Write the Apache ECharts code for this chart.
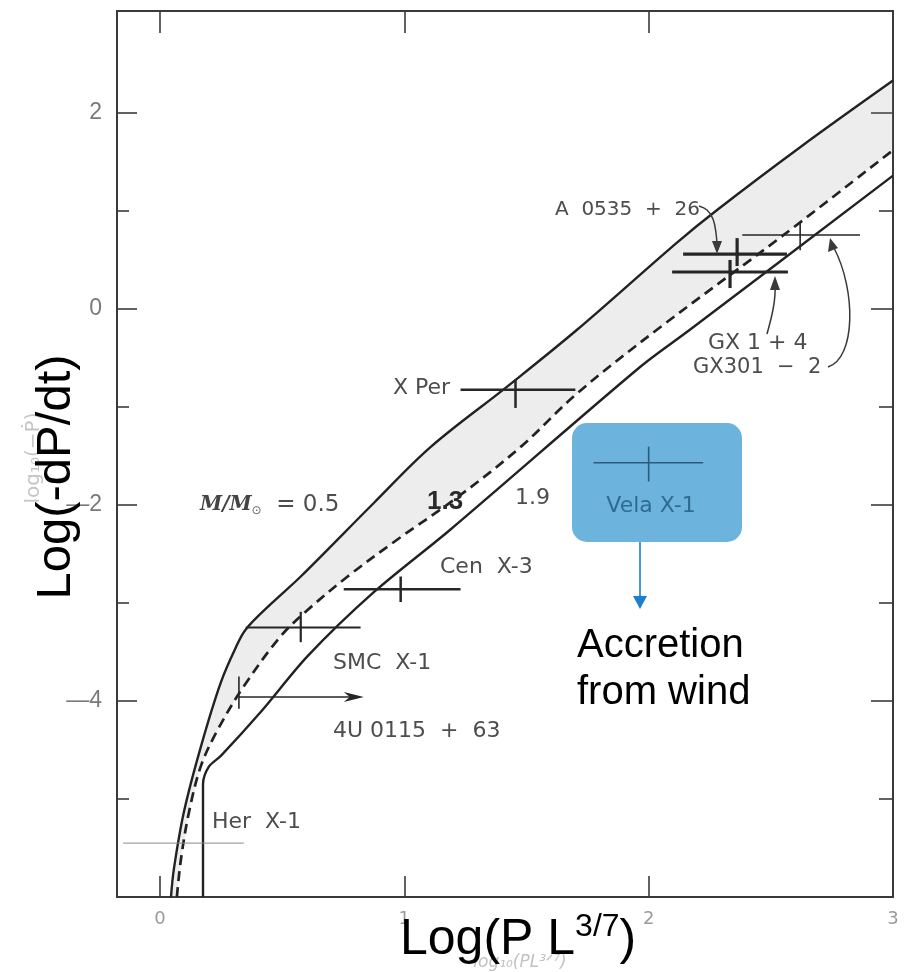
<!DOCTYPE html>
<html>
<head>
<meta charset="utf-8">
<script src="https://cdn.jsdelivr.net/npm/echarts@6/dist/echarts.min.js"></script>
<style>
  html, body { margin: 0; padding: 0; background: #fff; }
  #chart { width: 904px; height: 972px; }
</style>
</head>
<body>
<div id="chart"></div>
<script>
// Spin-up rate of accreting X-ray pulsars against log(P L^3/7),
// with the theoretical spin-up curves for three neutron-star masses.

// Theoretical curves [log(P L^3/7), log(-dP/dt)]
const curveM05 = [[0.045, -6], [0.057, -5.71], [0.098, -5.13], [0.168, -4.46], [0.249, -3.81],
  [0.311, -3.45], [0.351, -3.27], [0.454, -3.01], [0.576, -2.73], [0.875, -1.98], [1.107, -1.41],
  [1.422, -0.79], [1.708, -0.21], [2.117, 0.68], [2.28, 1.01], [2.62, 1.65], [3.0, 2.33]];
const curveM13 = [[0.069, -6], [0.086, -5.61], [0.119, -5.13], [0.168, -4.66], [0.237, -4.29],
  [0.343, -3.85], [0.494, -3.34], [0.605, -3.07], [0.768, -2.73], [0.973, -2.35], [1.218, -1.92],
  [1.475, -1.41], [1.708, -0.86], [2.035, -0.21], [2.55, 0.75], [3.0, 1.62]];
const curveM19 = [[0.176, -6], [0.176, -4.85], [0.2, -4.67], [0.249, -4.56], [0.413, -4.11],
  [0.605, -3.54], [0.875, -2.89], [1.189, -2.25], [1.966, -0.59], [2.17, -0.21], [3.0, 1.36]];

// Measured sources: centre and error-bar extents
const sourceNames = ['X Per', 'Cen X-3', 'SMC X-1', 'A 0535+26', 'GX 1+4', 'GX 301-2', 'Vela X-1', 'Her X-1'];
const srcX   = [1.455, 0.985, 0.576, 2.362, 2.333, 2.62, 2.0, 0.096];
const srcY   = [-0.825, -2.86, -3.25, 0.56, 0.377, 0.754, -1.57, -5.45];
const srcXLo = [1.23, 0.752, 0.351, 2.141, 2.096, 2.383, 1.774, -0.151];
const srcXHi = [1.70, 1.23, 0.821, 2.566, 2.57, 2.865, 2.223, 0.343];
const srcYLo = [-1.01, -2.99, -3.40, 0.438, 0.214, 0.60, -1.76, -5.45];
const srcYHi = [-0.72, -2.73, -3.09, 0.723, 0.50, 0.886, -1.405, -5.45];

// 4U 0115+63: lower limit on log(P L^3/7)
const limitX = 0.323, limitY = -3.96, limitYLo = -4.08, limitYHi = -3.75, limitXTo = 0.834;

// Axis ticks and labels
const xTicks = [0, 1, 2];
const xLabels = [0, 1, 2, 3];
const yMajorTicks = [-4, -2, 0, 2];
const yMinorTicks = [-5, -3, -1, 1];
const yLabels = [-4, -2, 0, 2];

const barStyle = {
  'X Per':     { w: 2.5, c: '#262626' },
  'Cen X-3':   { w: 2.5, c: '#262626' },
  'SMC X-1':   { w: 2.2, c: '#262626' },
  'A 0535+26': { w: 3.2, c: '#262626' },
  'GX 1+4':    { w: 3.2, c: '#262626' },
  'GX 301-2':  { w: 1.6, c: '#262626' },
  'Vela X-1':  { w: 1.6, c: '#2c5a7a' },
  'Her X-1':   { w: 1.0, c: '#8a8a8a' }
};

const LABEL_FONT = '"DejaVu Sans", sans-serif';
const TITLE_FONT = '"Liberation Sans", Arial, sans-serif';
const scanGray = '#4d4d4d';

const chart = echarts.init(document.getElementById('chart'), null, { renderer: 'canvas' });

const tickLine = { color: '#3a3a3a', width: 1.6 };
const xBase = { type: 'value', min: -0.176, max: 3, splitLine: { show: false }, axisLine: { show: false, onZero: false } };
const yBase = { type: 'value', min: -6, max: 3.04, splitLine: { show: false }, axisLine: { show: false, onZero: false } };

function text(x, y, str, size, extra) {
  return Object.assign({
    type: 'text', x: x, y: y, z: 20,
    style: Object.assign({
      text: str, fontSize: size, fontFamily: LABEL_FONT, fill: scanGray,
      align: 'left', verticalAlign: 'middle'
    }, (extra && extra.style) || {})
  }, extra && extra.el || {});
}

const option = {
  animation: false,
  backgroundColor: '#fff',
  grid: { left: 117, right: 11, top: 11, bottom: 75, show: true, borderColor: '#3a3a3a', borderWidth: 2, backgroundColor: 'transparent' },
  xAxis: [
    Object.assign({}, xBase, {
      position: 'bottom',
      axisTick: { show: true, inside: true, length: 21, customValues: xTicks, lineStyle: tickLine },
      axisLabel: { show: true, customValues: xLabels, margin: 13, fontSize: 18, color: '#9a9a9a', fontFamily: LABEL_FONT }
    }),
    Object.assign({}, xBase, {
      position: 'top',
      axisTick: { show: true, inside: true, length: 22, customValues: xTicks, lineStyle: tickLine },
      axisLabel: { show: false }
    })
  ],
  yAxis: [
    Object.assign({}, yBase, {
      position: 'left',
      axisTick: { show: true, inside: true, length: 20, customValues: yMajorTicks, lineStyle: tickLine },
      axisLabel: {
        show: true, customValues: yLabels, margin: 15, fontSize: 23, color: '#7a7a7a', fontFamily: TITLE_FONT,
        padding: [8, 0, 0, 0],
        formatter: v => (v < 0 ? '\u2014' + Math.abs(v) : String(v))
      }
    }),
    Object.assign({}, yBase, {
      position: 'left',
      axisTick: { show: true, inside: true, length: 12, customValues: yMinorTicks, lineStyle: tickLine },
      axisLabel: { show: false }
    }),
    Object.assign({}, yBase, {
      position: 'right',
      axisTick: { show: true, inside: true, length: 22, customValues: yMajorTicks, lineStyle: tickLine },
      axisLabel: { show: false }
    }),
    Object.assign({}, yBase, {
      position: 'right',
      axisTick: { show: true, inside: true, length: 14, customValues: yMinorTicks, lineStyle: tickLine },
      axisLabel: { show: false }
    })
  ],
  series: [
    // stippled band between the 0.5 and 1.3 curves
    {
      type: 'custom', z: 1, silent: true,
      data: [[0, 0]],
      renderItem: function (params, api) {
        const pts = curveM05.map(p => api.coord(p))
          .concat(curveM13.slice().reverse().map(p => api.coord(p)));
        return { type: 'polygon', shape: { points: pts }, style: { fill: 'rgba(150,150,150,0.17)' } };
      }
    },
    {
      name: 'M/M = 0.5', type: 'line', data: curveM05, showSymbol: false, smooth: 0.35, z: 3,
      lineStyle: { color: '#222', width: 2.4 }
    },
    {
      name: 'M/M = 1.3', type: 'line', data: curveM13, showSymbol: false, smooth: 0.35, z: 3,
      lineStyle: { color: '#222', width: 2.7, type: [10, 6] }
    },
    {
      name: 'M/M = 1.9', type: 'line', data: curveM19, showSymbol: false, smooth: 0.3, z: 3,
      lineStyle: { color: '#222', width: 2.4 }
    },
    // error-bar crosses
    {
      type: 'custom', z: 4, silent: true,
      data: sourceNames.map((n, i) => [srcX[i], srcY[i], srcXLo[i], srcXHi[i], srcYLo[i], srcYHi[i]]),
      renderItem: function (params, api) {
        const st = barStyle[sourceNames[params.dataIndex]];
        const l = api.coord([api.value(2), api.value(1)]);
        const r = api.coord([api.value(3), api.value(1)]);
        const t = api.coord([api.value(0), api.value(5)]);
        const b = api.coord([api.value(0), api.value(4)]);
        const s = { stroke: st.c, lineWidth: st.w };
        return {
          type: 'group', children: [
            { type: 'line', shape: { x1: l[0], y1: l[1], x2: r[0], y2: r[1] }, style: s },
            { type: 'line', shape: { x1: t[0], y1: t[1], x2: b[0], y2: b[1] }, style: s }
          ]
        };
      }
    },
    // lower limit with arrow
    {
      type: 'custom', z: 4, silent: true,
      data: [[limitX, limitY, limitYLo, limitYHi, limitXTo]],
      renderItem: function (params, api) {
        const c = api.coord([api.value(0), api.value(1)]);
        const e = api.coord([api.value(4), api.value(1)]);
        const t = api.coord([api.value(0), api.value(3)]);
        const b = api.coord([api.value(0), api.value(2)]);
        const s = { stroke: '#262626', lineWidth: 1.6 };
        return {
          type: 'group', children: [
            { type: 'line', shape: { x1: c[0], y1: c[1], x2: e[0] - 8, y2: e[1] }, style: s },
            { type: 'line', shape: { x1: t[0], y1: t[1], x2: b[0], y2: b[1] }, style: s },
            { type: 'polygon', shape: { points: [[e[0], e[1]], [e[0] - 20, e[1] - 5], [e[0] - 14, e[1]], [e[0] - 20, e[1] + 5]] },
              style: { fill: '#262626' } }
          ]
        };
      }
    }
  ],
  graphic: [
    // faint printed axis captions underneath the large titles
    { type: 'text', x: 34, y: 458, rotation: Math.PI / 2, z: 5,
      style: { text: 'log\u2081\u2080(\u2212\u1E56)', fontSize: 20, fontFamily: LABEL_FONT, fill: '#c6c6c6', align: 'center', verticalAlign: 'middle' } },
    { type: 'text', x: 520, y: 963, z: 5,
      style: { text: 'log\u2081\u2080(PL\u00B3\u141F\u2077)', fontSize: 17, fontStyle: 'italic', fontFamily: LABEL_FONT, fill: '#c2c2c2', align: 'center', verticalAlign: 'middle' } },

    // source and curve labels
    text(555, 210, 'A  0535  +  26', 20),
    text(393, 388, 'X Per', 22),
    text(440, 567, 'Cen  X-3', 22),
    text(333, 663, 'SMC  X-1', 22),
    text(333, 731, '4U 0115  +  63', 22),
    text(212, 822, 'Her  X-1', 22),
    text(708, 343, 'GX 1 + 4', 22),
    text(693, 368, 'GX301  \u2212  2', 21),
    text(515, 498, '1.9', 22),
    text(427, 502, '1.3', 26, { style: { fontWeight: 'bold', fill: '#2a2a2a', fontFamily: TITLE_FONT } }),
    {
      type: 'text', x: 200, y: 505, z: 20,
      style: {
        text: '{m|M/M}{s|\u2299}{t|  = 0.5}',
        verticalAlign: 'middle',
        rich: {
          m: { fontSize: 20, fontFamily: '"DejaVu Serif", serif', fontStyle: 'italic', fontWeight: 'bold', fill: '#444', verticalAlign: 'middle' },
          s: { fontSize: 12, fontFamily: LABEL_FONT, fill: '#666', verticalAlign: 'bottom', lineHeight: 12 },
          t: { fontSize: 23, fontFamily: LABEL_FONT, fill: scanGray }
        }
      }
    },

    // leader arrows
    { type: 'polyline', z: 20, shape: { points: [[699, 206], [707, 210], [713, 219], [716, 233], [717, 246]], smooth: 0.4 },
      style: { stroke: '#3a3a3a', lineWidth: 1.5, fill: null } },
    { type: 'polygon', z: 20, shape: { points: [[712, 241], [722, 241], [717, 254]] }, style: { fill: '#3a3a3a' } },
    { type: 'bezierCurve', z: 20, shape: { x1: 767, y1: 334, cpx1: 772, cpy1: 316, cpx2: 776, cpy2: 300, x2: 775, y2: 284 },
      style: { stroke: '#3a3a3a', lineWidth: 1.5, fill: null } },
    { type: 'polygon', z: 20, shape: { points: [[770, 290], [780, 290], [775, 276]] }, style: { fill: '#3a3a3a' } },
    { type: 'bezierCurve', z: 20, shape: { x1: 828, y1: 367, cpx1: 856, cpy1: 358, cpx2: 856, cpy2: 290, x2: 834, y2: 248 },
      style: { stroke: '#3a3a3a', lineWidth: 1.5, fill: null } },
    { type: 'polygon', z: 20, shape: { points: [[828, 252], [838, 248], [830, 238]] }, style: { fill: '#3a3a3a' } },

    // highlighted Vela X-1 box with its pointer
    { type: 'rect', z: 1, shape: { x: 572, y: 423, width: 170, height: 119, r: 15 }, style: { fill: '#6cb4de' } },
    { type: 'text', x: 651, y: 506, z: 20,
      style: { text: 'Vela X-1', fontSize: 22, fontFamily: LABEL_FONT, fill: '#2f6b92', align: 'center', verticalAlign: 'middle' } },
    { type: 'line', z: 20, shape: { x1: 640, y1: 542, x2: 640, y2: 597 }, style: { stroke: '#1b7fcf', lineWidth: 1.6 } },
    { type: 'polygon', z: 20, shape: { points: [[633, 596], [647, 596], [640, 609]] }, style: { fill: '#1b7fcf' } },
    { type: 'text', x: 577, y: 646, z: 20,
      style: { text: 'Accretion', fontSize: 40, fontFamily: TITLE_FONT, fill: '#000', align: 'left', verticalAlign: 'middle' } },
    { type: 'text', x: 577, y: 693, z: 20,
      style: { text: 'from wind', fontSize: 40, fontFamily: TITLE_FONT, fill: '#000', align: 'left', verticalAlign: 'middle' } },

    // axis titles
    { type: 'text', x: 56, y: 477, rotation: Math.PI / 2, z: 30,
      style: { text: 'Log(-dP/dt)', fontSize: 49, fontFamily: TITLE_FONT, fill: '#000', align: 'center', verticalAlign: 'middle' } },
    { type: 'text', x: 400, y: 940, z: 30,
      style: {
        text: '{m|Log(P L}{s|3/7}{m|)}',
        verticalAlign: 'middle',
        rich: {
          m: { fontSize: 50, fontFamily: TITLE_FONT, fill: '#000', lineHeight: 58 },
          s: { fontSize: 32, fontFamily: TITLE_FONT, fill: '#000', lineHeight: 30, verticalAlign: 'top' }
        }
      }
    }
  ]
};

chart.setOption(option);
</script>
</body>
</html>
